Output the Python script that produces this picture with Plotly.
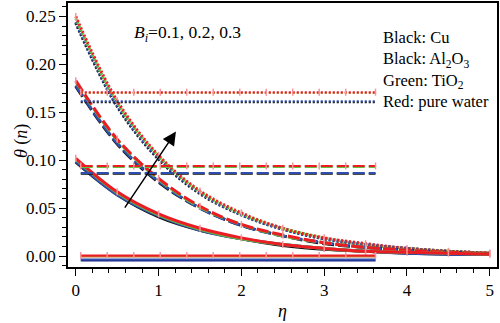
import plotly.graph_objects as go

# Similarity variable
eta = [0.0, 0.5, 1.0, 1.5, 2.0, 2.5, 3.0, 3.5, 4.0, 4.5, 5.0]

# Temperature profiles theta(eta) for Bi = 0.3 (dotted)
bi3_cu    = [0.243, 0.156, 0.101, 0.065, 0.043, 0.028, 0.018, 0.012, 0.008, 0.005, 0.003]
bi3_al2o3 = [0.244, 0.157, 0.102, 0.066, 0.043, 0.028, 0.018, 0.012, 0.008, 0.005, 0.003]
bi3_tio2  = [0.248, 0.160, 0.104, 0.067, 0.044, 0.029, 0.019, 0.012, 0.008, 0.005, 0.003]
bi3_water = [0.250, 0.162, 0.105, 0.068, 0.045, 0.029, 0.019, 0.013, 0.008, 0.005, 0.003]

# Bi = 0.2 (dashed)
bi2_cu    = [0.177, 0.117, 0.077, 0.050, 0.032, 0.021, 0.013, 0.009, 0.006, 0.004, 0.002]
bi2_al2o3 = [0.178, 0.118, 0.078, 0.050, 0.032, 0.021, 0.014, 0.009, 0.006, 0.004, 0.002]
bi2_tio2  = [0.182, 0.121, 0.080, 0.051, 0.033, 0.021, 0.014, 0.009, 0.006, 0.004, 0.003]
bi2_water = [0.183, 0.122, 0.081, 0.052, 0.033, 0.022, 0.014, 0.009, 0.006, 0.004, 0.003]

# Bi = 0.1 (solid)
bi1_cu    = [0.098, 0.064, 0.041, 0.027, 0.018, 0.011, 0.007, 0.005, 0.003, 0.002, 0.002]
bi1_al2o3 = [0.099, 0.064, 0.042, 0.027, 0.018, 0.012, 0.008, 0.005, 0.003, 0.002, 0.002]
bi1_tio2  = [0.101, 0.066, 0.043, 0.028, 0.018, 0.012, 0.008, 0.005, 0.004, 0.003, 0.002]
bi1_water = [0.102, 0.067, 0.044, 0.029, 0.019, 0.012, 0.008, 0.005, 0.004, 0.003, 0.002]

# Horizontal reference segments (eta positions and levels)
seg_eta = [0.06, 0.38, 0.70, 1.02, 1.34, 1.66, 1.98, 2.30, 2.62, 2.94, 3.26, 3.62]
dot_levels = {"upper_a": 0.171, "upper_b": 0.170, "lower_a": 0.1615, "lower_b": 0.1605}
dash_levels = {"upper_a": 0.094, "upper_b": 0.093, "lower_a": 0.0866, "lower_b": 0.0858}
solid_levels = {"upper_a": 0.0005, "upper_b": -0.0005, "lower_a": -0.0035, "lower_b": -0.0045}

RED = "#ec1c24"
BLUE = "#2e4fb0"
GREEN = "#62c23e"
BLACK = "#111111"
BROWN = "#c0742e"
NAVY = "#1a237e"
PINK = "#f7949a"
SERIF = "Liberation Serif, DejaVu Serif, serif"

DOT = "2px,2px"
DASH = "12px,4px"

fig = go.Figure()

groups = [
    (bi3_cu, bi3_al2o3, bi3_tio2, bi3_water, DOT),
    (bi2_cu, bi2_al2o3, bi2_tio2, bi2_water, DASH),
    (bi1_cu, bi1_al2o3, bi1_tio2, bi1_water, "solid"),
]
for cu, al, ti, wa, dash in groups:
    for ys, col in ((cu, BLACK), (al, BLUE), (ti, GREEN)):
        fig.add_trace(go.Scatter(x=eta, y=ys, mode="lines",
                                 line=dict(color=col, width=3, dash=dash, shape="spline"),
                                 showlegend=False, hoverinfo="skip"))
    fig.add_trace(go.Scatter(x=eta, y=wa, mode="lines+markers",
                             line=dict(color=RED, width=3, dash=dash, shape="spline"),
                             marker=dict(symbol="line-ns", size=5,
                                         line=dict(color=PINK, width=1.5)),
                             showlegend=False, hoverinfo="skip"))

seg_sets = [
    (dot_levels, DOT, (RED, BROWN, BLUE, BLACK)),
    (dash_levels, DASH, (RED, GREEN, BLUE, BLACK)),
    (solid_levels, "solid", (RED, BROWN, BLUE, NAVY)),
]
for levels, dash, cols in seg_sets:
    keys = ["lower_b", "lower_a", "upper_b", "upper_a"]
    colmap = {"upper_a": cols[0], "upper_b": cols[1], "lower_a": cols[2], "lower_b": cols[3]}
    for k in keys:
        is_red = colmap[k] == RED
        fig.add_trace(go.Scatter(
            x=seg_eta, y=[levels[k]] * len(seg_eta),
            mode="lines+markers" if is_red else "lines",
            line=dict(color=colmap[k], width=2, dash=dash),
            marker=dict(symbol="line-ns", size=5, line=dict(color=PINK, width=1.5)),
            showlegend=False, hoverinfo="skip"))

# Arrow showing increasing Bi
fig.add_annotation(x=1.21, y=0.130, ax=0.58, ay=0.049,
                   xref="x", yref="y", axref="x", ayref="y",
                   showarrow=True, arrowhead=2, arrowsize=1.8, arrowwidth=1.5,
                   arrowcolor="black", text="")

fig.add_annotation(text="<i>B<sub>i</sub></i>=0.1, 0.2, 0.3",
                   xref="paper", yref="paper", x=(132 - 68) / 430, y=0.885,
                   xanchor="left", yanchor="middle", showarrow=False,
                   font=dict(family=SERIF, size=17.5, color="black"))

# Colour key as one block of text
legend_lines = ["Black: Cu", "Black: Al<sub>2</sub>O<sub>3</sub>",
                "Green: TiO<sub>2</sub>", "Red: pure water"]
fig.add_annotation(text="<br>".join(legend_lines), xref="paper", yref="paper",
                   x=(382 - 68) / 430, y=1 - (68 - 1) / 266,
                   xanchor="left", yanchor="middle", align="left", showarrow=False,
                   font=dict(family=SERIF, size=16.5, color="black"))

# Y-axis label placed next to the tick labels
fig.add_annotation(text="<i>θ</i> (<i>n</i>)", xref="paper", yref="paper",
                   x=(22 - 68) / 430, y=1 - (140 - 1) / 266, textangle=-90,
                   xanchor="center", yanchor="middle", showarrow=False,
                   font=dict(family=SERIF, size=18, color="black"))

fig.update_layout(
    width=500, height=323,
    margin=dict(l=68, r=2, t=1, b=56),
    paper_bgcolor="white", plot_bgcolor="white",
    font=dict(family=SERIF, size=17, color="black"),
    xaxis=dict(range=[-0.094, 5.087], tickvals=[0, 1, 2, 3, 4, 5],
               showgrid=False, zeroline=False,
               showline=True, linecolor="black", linewidth=1.5, mirror=True,
               ticks="outside", ticklen=7, tickwidth=1.2, tickcolor="black",
               minor=dict(dtick=0.2, ticks="outside", ticklen=4, tickcolor="black", tickwidth=1),
               tickfont=dict(family=SERIF, size=17),
               title=dict(text="<i>η</i>", standoff=5, font=dict(family=SERIF, size=18))),
    yaxis=dict(range=[-0.0114, 0.264], tickvals=[0, 0.05, 0.10, 0.15, 0.20, 0.25],
               tickformat=".2f",
               showgrid=False, zeroline=False,
               showline=True, linecolor="black", linewidth=1.5, mirror=True,
               ticks="outside", ticklen=7, tickwidth=1.2, tickcolor="black",
               minor=dict(dtick=0.01, ticks="outside", ticklen=4, tickcolor="black", tickwidth=1),
               tickfont=dict(family=SERIF, size=17)),
)

fig.write_html("out.html")
